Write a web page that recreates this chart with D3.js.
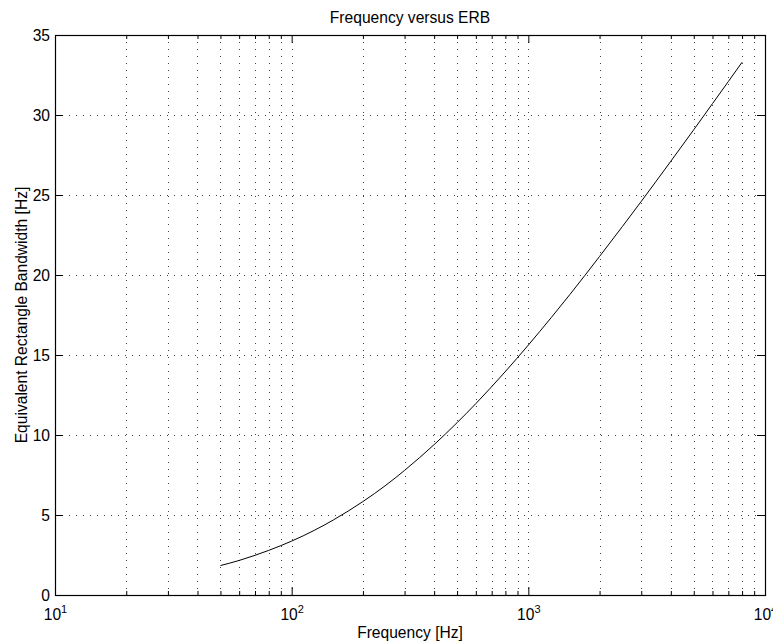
<!DOCTYPE html>
<html>
<head>
<meta charset="utf-8">
<script src="https://cdn.jsdelivr.net/npm/d3@7"></script>
<style>
  body { margin: 0; background: #fff; }
  svg { font-family: "Liberation Sans", Arial, Helvetica, sans-serif; }
</style>
</head>
<body>
<svg class="erb"></svg>
<script>
// frequency (Hz) and ERB values
var freqHz = [50, 60, 70, 80, 100, 125, 150, 200, 250, 300, 400, 500, 600, 800,
    1000, 1250, 1500, 2000, 2500, 3000, 4000, 5000, 6000, 7000, 8000];
var erbValues = [1.84, 2.16, 2.48, 2.79, 3.37, 4.05, 4.69, 5.84, 6.86, 7.79, 9.40, 10.77, 11.96, 13.97,
    15.62, 17.34, 18.79, 21.16, 23.04, 24.60, 27.11, 29.08, 30.71, 32.09, 33.30];

var xMajorTicks = [10, 100, 1000, 10000];
var xExponents = ["1", "2", "3", "4"];
var xMinorTicks = [20, 30, 40, 50, 60, 70, 80, 90, 200, 300, 400, 500, 600, 700, 800, 900,
    2000, 3000, 4000, 5000, 6000, 7000, 8000, 9000];
var yTicks = [0, 5, 10, 15, 20, 25, 30, 35];

var titleText = "Frequency versus ERB";
var xLabel = "Frequency [Hz]";
var yLabel = "Equivalent Rectangle Bandwidth [Hz]";

var width = 773, height = 643;
var margin = {top: 35, right: 8, bottom: 48, left: 55};
var w = width - margin.left - margin.right,
    h = height - margin.top - margin.bottom;
var fontSize = 15.6;

var svg = d3.select(".erb").attr("width", width).attr("height", height);
var g = svg.append("g").attr("transform", "translate(" + margin.left + "," + margin.top + ")");

var x = d3.scaleLog().domain([10, 10000]).range([0, w]);
var y = d3.scaleLinear().domain([0, 35]).range([h, 0]);

//dotted grid, all x ticks + y ticks
var gridX = xMajorTicks.concat(xMinorTicks).filter(function(d) { return d > 10 && d < 10000; });
g.append("g").selectAll("line").data(gridX).enter().append("line")
    .attr("x1", function(d) { return Math.round(x(d)) + 0.5; })
    .attr("x2", function(d) { return Math.round(x(d)) + 0.5; })
    .attr("y1", 0).attr("y2", h)
    .attr("stroke", "#444").attr("stroke-width", 1)
    .attr("stroke-dasharray", "1,6");
g.append("g").selectAll("line").data(yTicks.filter(function(d) { return d > 0 && d < 35; })).enter().append("line")
    .attr("x1", 0).attr("x2", w)
    .attr("y1", function(d) { return Math.round(y(d)) + 0.5; })
    .attr("y2", function(d) { return Math.round(y(d)) + 0.5; })
    .attr("stroke", "#444").attr("stroke-width", 1)
    .attr("stroke-dasharray", "1,6");

// curve
var line = d3.line()
    .x(function(d, i) { return x(freqHz[i]); })
    .y(function(d) { return y(d); })
    .curve(d3.curveMonotoneX);
g.append("path").datum(erbValues)
    .attr("d", line)
    .attr("fill", "none")
    .attr("stroke", "#000")
    .attr("stroke-width", 1);

// axes - ticks pointing inward on all four sides
function styleAxis(sel) {
    sel.select(".domain").remove();
    sel.selectAll("line").attr("stroke", "#000");
}
g.append("g").attr("transform", "translate(0," + h + ")")
    .call(d3.axisBottom(x).tickValues(xMinorTicks).tickSize(-4).tickFormat(""))
    .call(styleAxis);
g.append("g")
    .call(d3.axisTop(x).tickValues(xMinorTicks).tickSize(-4).tickFormat(""))
    .call(styleAxis);
g.append("g")
    .call(d3.axisTop(x).tickValues(xMajorTicks).tickSize(-8).tickFormat(""))
    .call(styleAxis);

var xAxis = g.append("g").attr("transform", "translate(0," + h + ")")
    .call(d3.axisBottom(x).tickValues(xMajorTicks).tickSize(-8).tickFormat(""))
    .call(styleAxis);
// labels like 10^3, centred as a whole on the tick
var xLab = xAxis.selectAll(".tick").append("text")
    .attr("fill", "#000").attr("font-size", fontSize)
    .attr("text-anchor", "middle")
    .attr("y", 25);
xLab.append("tspan").text("10");
xLab.append("tspan")
    .attr("dy", -7).attr("font-size", 11)
    .text(function(d, i) { return xExponents[i]; });

g.append("g")
    .call(d3.axisLeft(y).tickValues(yTicks).tickSize(-8).tickPadding(5))
    .call(styleAxis)
    .selectAll("text").attr("fill", "#000").attr("font-size", fontSize);
g.append("g").attr("transform", "translate(" + w + ",0)")
    .call(d3.axisRight(y).tickValues(yTicks).tickSize(-8).tickFormat(""))
    .call(styleAxis);

// box
g.append("rect").attr("x", 0.5).attr("y", 0.5).attr("width", w).attr("height", h)
    .attr("fill", "none").attr("stroke", "#000").attr("stroke-width", 1.2);

// titles
svg.append("text")
    .attr("x", margin.left + w / 2).attr("y", 23)
    .attr("text-anchor", "middle").attr("font-size", fontSize)
    .text(titleText);
svg.append("text")
    .attr("x", margin.left + w / 2).attr("y", 638)
    .attr("text-anchor", "middle").attr("font-size", fontSize)
    .text(xLabel);
svg.append("text")
    .attr("transform", "translate(26.5," + (margin.top + h / 2) + ") rotate(-90)")
    .attr("text-anchor", "middle").attr("font-size", fontSize)
    .text(yLabel);
</script>
</body>
</html>
